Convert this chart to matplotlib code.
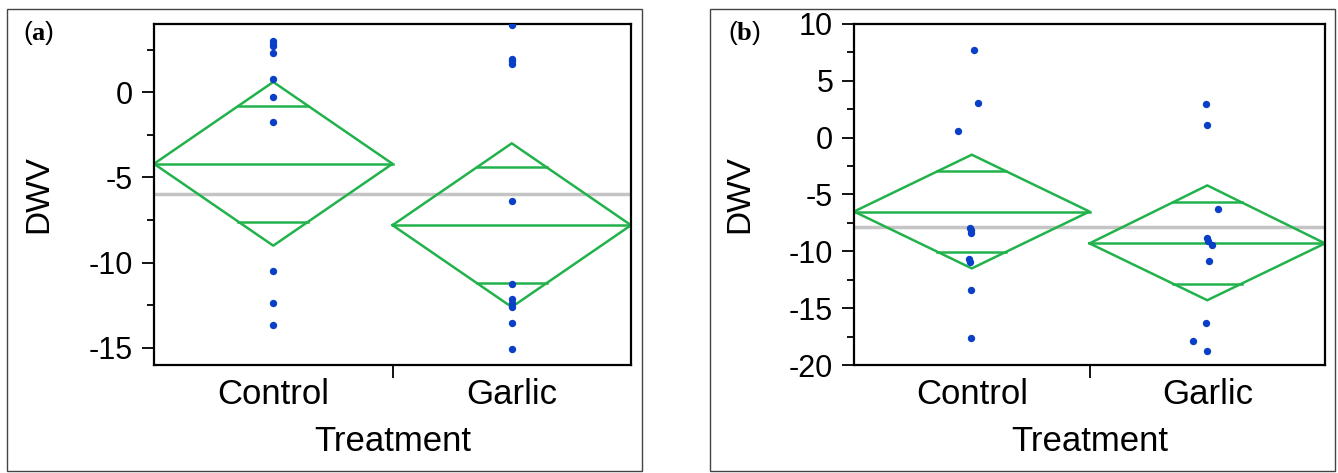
import numpy as np
import matplotlib.pyplot as plt
from matplotlib.patches import Rectangle
from matplotlib.ticker import MultipleLocator

plt.rcParams["font.family"] = ["Liberation Sans", "DejaVu Sans"]
plt.rcParams["mathtext.fontset"] = "custom"
plt.rcParams["mathtext.rm"] = "Liberation Serif"
plt.rcParams["mathtext.bf"] = "Liberation Serif:bold"

groups = ["Control", "Garlic"]

# panel (a): raw DWV values per group
a_control = [3.0, 2.85, 2.7, 2.3, 0.75, -0.3, -1.75, -10.5, -12.35, -13.65]
a_garlic = [3.93, 1.95, 1.8, 1.65, -6.4, -11.25, -12.1, -12.35, -12.6, -13.55, -15.05]
# means diamonds: group mean, upper 95% CI, lower 95% CI
a_mean = [-4.2, -7.8]
a_upper = [0.6, -3.0]
a_lower = [-9.0, -12.6]
a_grand = -6.0

# panel (b)
b_control = [7.69, 3.02, 0.59, -7.91, -8.12, -8.41, -10.7, -10.96, -13.4, -17.65]
b_control_dx = [0.009, 0.028, -0.059, -0.007, -0.002, -0.002, -0.012, -0.007, -0.002, -0.002]
b_garlic = [2.96, 1.12, -6.27, -8.85, -9.06, -9.44, -10.82, -16.33, -17.91, -18.73]
b_garlic_dx = [-0.005, -0.003, 0.045, 0.0, 0.004, 0.018, 0.009, -0.005, -0.06, 0.0]
b_mean = [-6.5, -9.3]
b_upper = [-1.5, -4.2]
b_lower = [-11.5, -14.3]
b_grand = -7.9

GREEN = "#22b24c"
BLUE = "#0a3fc8"


def draw_panel(ax, values, offsets, means, uppers, lowers, grand, ylim):
    ax.axhline(grand, color="#c4c4c4", lw=2.5, zorder=1)

    for i, (m, up, lo) in enumerate(zip(means, uppers, lowers)):
        # diamond spans the full category width
        xs = [i - 0.5, i, i + 0.5, i, i - 0.5]
        ys = [m, up, m, lo, m]
        ax.plot(xs, ys, color=GREEN, lw=1.8, zorder=2)
        ax.plot([i - 0.5, i + 0.5], [m, m], color=GREEN, lw=1.8, zorder=2)
        # overlap marks
        half = (up - m) / np.sqrt(2)
        w = 0.5 * (1 - 1 / np.sqrt(2))
        for yy in (m + half, m - half):
            ax.plot([i - w, i + w], [yy, yy], color=GREEN, lw=1.8, zorder=2)

    for i, (vals, dx) in enumerate(zip(values, offsets)):
        ax.plot(np.array(dx) + i, vals, "o", color=BLUE, ms=5.3, mec="none", zorder=3)

    ax.set_xlim(-0.5, 1.5)
    ax.set_ylim(*ylim)
    ax.yaxis.set_major_locator(MultipleLocator(5))
    ax.yaxis.set_minor_locator(MultipleLocator(2.5))
    ax.tick_params(axis="y", which="major", length=9, width=1.3, labelsize=22, pad=6)
    ax.tick_params(axis="y", which="minor", length=5, width=1.3)
    ax.set_yticks(ax.get_yticks())
    ax.set_yticklabels([f"{t:g}" for t in ax.get_yticks()])
    ax.set_ylim(*ylim)

    ax.set_xticks([0, 1])
    ax.set_xticklabels(groups)
    ax.set_xticks([0.5], minor=True)
    ax.tick_params(axis="x", which="major", length=0, labelsize=25, pad=9)
    ax.tick_params(axis="x", which="minor", length=9, width=1.3)

    for s in ax.spines.values():
        s.set_linewidth(1.6)

    ax.set_xlabel("Treatment", fontsize=25)
    ax.set_ylabel("DWV", fontsize=24)
    ax.xaxis.set_label_coords(0.5, -0.175)
    ax.yaxis.set_label_coords(-0.21, 0.5)


fig = plt.figure(figsize=(13.38, 4.73), dpi=100)

# outer panel frames
fig.patches.append(Rectangle((0.0052, 0.004), 0.4746, 0.9767, transform=fig.transFigure,
                             fill=False, edgecolor="#444444", lw=1))
fig.patches.append(Rectangle((0.5306, 0.004), 0.4671, 0.9767, transform=fig.transFigure,
                             fill=False, edgecolor="#444444", lw=1))

ax1 = fig.add_axes([0.1151, 0.2283, 0.3565, 0.7210])
draw_panel(ax1, [a_control, a_garlic], [np.zeros(len(a_control)), np.zeros(len(a_garlic))],
           a_mean, a_upper, a_lower, a_grand, (-16, 4))

ax2 = fig.add_axes([0.6383, 0.2283, 0.3520, 0.7210])
draw_panel(ax2, [b_control, b_garlic], [b_control_dx, b_garlic_dx],
           b_mean, b_upper, b_lower, b_grand, (-20, 10))

fig.text(0.0172, 0.93, r"($\mathbf{a}$)", fontsize=19, ha="left", va="center")
fig.text(0.5441, 0.93, r"($\mathbf{b}$)", fontsize=19, ha="left", va="center")

fig.savefig("out.png", dpi=100)
